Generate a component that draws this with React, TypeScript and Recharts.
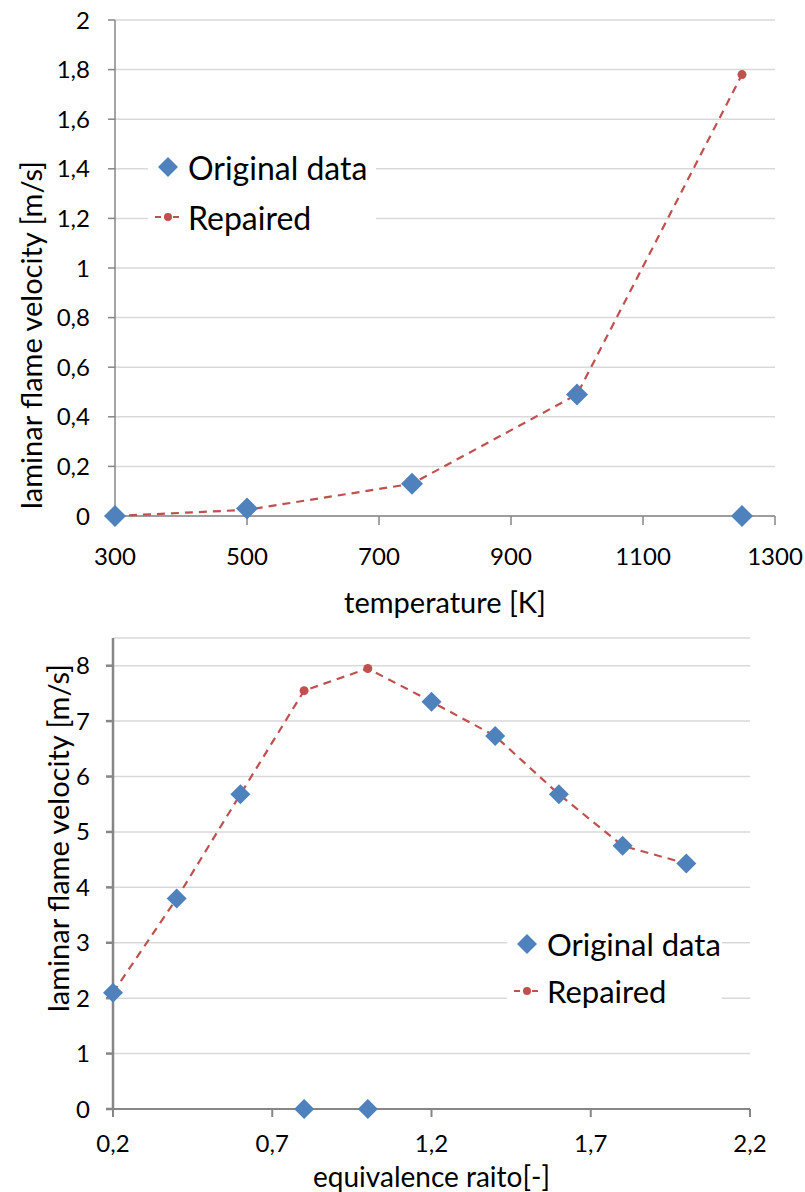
import React from "react";
import {
  ScatterChart,
  Scatter,
  XAxis,
  YAxis,
  CartesianGrid,
} from "recharts";

// top chart: flame velocity vs temperature
const temperatures = [300, 500, 750, 1000, 1250];
const tempOriginal = [0, 0.03, 0.13, 0.49, 0];
const tempRepaired = [0, 0.025, 0.13, 0.49, 1.78];
const tempXTicks = [300, 500, 700, 900, 1100, 1300];
const tempYTicks = [0, 0.2, 0.4, 0.6, 0.8, 1, 1.2, 1.4, 1.6, 1.8, 2];

// bottom chart: flame velocity vs equivalence ratio
const ratios = [0.2, 0.4, 0.6, 0.8, 1.0, 1.2, 1.4, 1.6, 1.8, 2.0];
const ratioOriginal = [2.1, 3.8, 5.68, 0, 0, 7.35, 6.73, 5.68, 4.75, 4.43];
const ratioRepaired = [2.1, 3.8, 5.68, 7.55, 7.95, 7.35, 6.73, 5.68, 4.75, 4.43];
const ratioXTicks = [0.2, 0.7, 1.2, 1.7, 2.2];
const ratioYTicks = [0, 1, 2, 3, 4, 5, 6, 7, 8];

const BLUE = "#4F81BD";
const RED = "#C0504D";
const AXIS = "#868686";
const GRID = "#d9d9d9";
const FONT = "Lato, 'Noto Sans', sans-serif";

const toPoints = (xs: number[], ys: number[]) =>
  xs.map((x, i) => ({ x, y: ys[i] }));

const comma = (v: number) => String(v).replace(".", ",");

const Diamond = (props: any) => {
  const { cx, cy } = props;
  const r = props.r ?? 10;
  return (
    <polygon
      points={`${cx},${cy - r} ${cx + r},${cy} ${cx},${cy + r} ${cx - r},${cy}`}
      fill={BLUE}
    />
  );
};

const Dot = (props: any) => {
  const { cx, cy } = props;
  return <circle cx={cx} cy={cy} r={4.5} fill={RED} />;
};

// rotated y title, the original sits lower/higher than the plot centre
const YTitle = ({ cx, cy }: { cx: number; cy: number }) => (
  <text
    x={cx}
    y={cy}
    transform={`rotate(-90 ${cx} ${cy})`}
    textAnchor="middle"
    dominantBaseline="central"
    fontSize={29}
    fontFamily={FONT}
    fill="#000"
  >
    laminar flame velocity [m/s]
  </text>
);

const LegendBox = ({
  left,
  top,
  width,
  fontSize,
  rowHeight,
}: {
  left: number;
  top: number;
  width: number;
  fontSize: number;
  rowHeight: number;
}) => (
  <div
    style={{
      position: "absolute",
      left,
      top,
      width,
      background: "#fff",
      fontFamily: FONT,
      fontSize,
      color: "#000",
    }}
  >
    <div style={{ display: "flex", alignItems: "center", height: rowHeight }}>
      <svg width={40} height={24}>
        <polygon points="20,2 30,12 20,22 10,12" fill={BLUE} />
      </svg>
      <span>Original data</span>
    </div>
    <div style={{ display: "flex", alignItems: "center", height: rowHeight }}>
      <svg width={40} height={24}>
        <line x1={7} y1={12} x2={34} y2={12} stroke={RED} strokeWidth={2} strokeDasharray="6 3" />
        <circle cx={20} cy={12} r={4} fill={RED} />
      </svg>
      <span>Repaired</span>
    </div>
  </div>
);

const tickStyle = { fill: "#000", fontSize: 24, fontFamily: FONT };
const titleStyle = { fill: "#000", fontSize: 29, fontFamily: FONT };

const TemperatureChart = () => (
  <div style={{ position: "relative", width: 805, height: 620 }}>
    <ScatterChart width={805} height={620} margin={{ top: 20, right: 30, left: 0, bottom: 0 }}>
      <CartesianGrid horizontal vertical={false} stroke={GRID} strokeWidth={1.5} />
      <XAxis
        type="number"
        dataKey="x"
        domain={[300, 1300]}
        ticks={tempXTicks}
        height={104}
        stroke={AXIS}
        strokeWidth={1.5}
        tickSize={9}
        tickMargin={23}
        tick={tickStyle}
        label={{ value: "temperature [K]", position: "insideBottom", offset: 7, style: titleStyle }}
      />
      <YAxis
        type="number"
        dataKey="y"
        domain={[0, 2]}
        ticks={tempYTicks}
        width={115}
        stroke={AXIS}
        strokeWidth={1.5}
        tickSize={7}
        tickMargin={18}
        tick={tickStyle}
        tickFormatter={comma}
        label={<YTitle cx={30} cy={335} />}
      />
      <Scatter
        name="Repaired"
        data={toPoints(temperatures, tempRepaired)}
        line={{ stroke: RED, strokeWidth: 2.2, strokeDasharray: "8 6" }}
        shape={Dot}
        isAnimationActive={false}
      />
      <Scatter
        name="Original data"
        data={toPoints(temperatures, tempOriginal)}
        shape={(p: any) => <Diamond {...p} r={11} />}
        isAnimationActive={false}
      />
    </ScatterChart>
    <LegendBox left={148} top={142} width={228} fontSize={32} rowHeight={50} />
  </div>
);

const RatioChart = () => (
  <div style={{ position: "relative", width: 805, height: 572 }}>
    <ScatterChart width={805} height={572} margin={{ top: 18, right: 55, left: 0, bottom: 0 }}>
      <CartesianGrid horizontal vertical={false} stroke={GRID} strokeWidth={1.5} />
      <XAxis
        type="number"
        dataKey="x"
        domain={[0.2, 2.2]}
        ticks={ratioXTicks}
        height={83}
        stroke={AXIS}
        strokeWidth={2}
        tickSize={8}
        tickMargin={18}
        tick={tickStyle}
        tickFormatter={comma}
        label={{
          value: "equivalence raito[-]",
          position: "insideBottom",
          offset: 5,
          style: { ...titleStyle, fontSize: 28 },
        }}
      />
      <YAxis
        type="number"
        dataKey="y"
        domain={[0, 8.5]}
        ticks={ratioYTicks}
        width={113}
        stroke={AXIS}
        strokeWidth={2.5}
        tickSize={7}
        tickMargin={16}
        tick={tickStyle}
        label={<YTitle cx={57} cy={218} />}
      />
      <Scatter
        name="Repaired"
        data={toPoints(ratios, ratioRepaired)}
        line={{ stroke: RED, strokeWidth: 2.2, strokeDasharray: "8 6" }}
        shape={Dot}
        isAnimationActive={false}
      />
      <Scatter
        name="Original data"
        data={toPoints(ratios, ratioOriginal)}
        shape={(p: any) => <Diamond {...p} r={10} />}
        isAnimationActive={false}
      />
    </ScatterChart>
    <LegendBox left={507} top={300} width={215} fontSize={31} rowHeight={47} />
  </div>
);

export default function App() {
  return (
    <div style={{ position: "absolute", left: 0, top: 0, width: 805, height: 1192, background: "#fff" }}>
      <TemperatureChart />
      <RatioChart />
    </div>
  );
}
